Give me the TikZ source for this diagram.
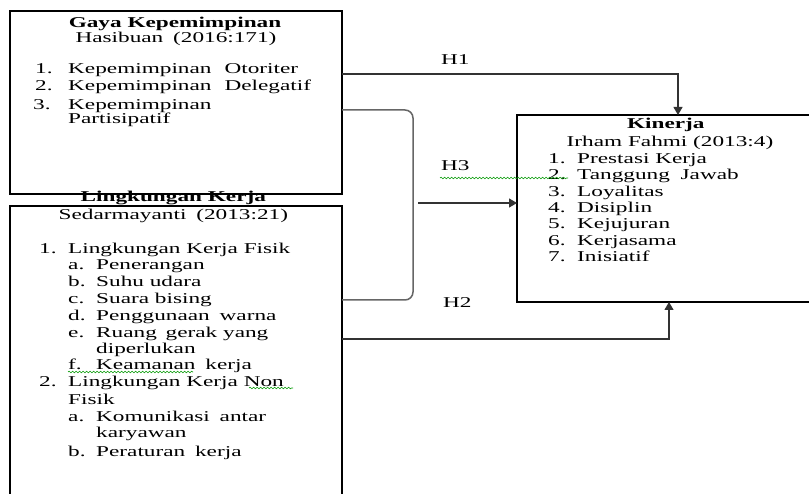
\documentclass[tikz,border=0pt]{standalone}
\usepackage{fontspec}
\setmainfont{Liberation Serif}[FakeStretch=1.55]
\usetikzlibrary{arrows.meta,decorations.pathmorphing}
\newcommand{\diagfont}{\fontsize{15}{16.5}\selectfont}
\tikzset{
  box/.style={draw, line width=1.3pt, inner sep=0pt, outer sep=0pt, anchor=north west},
  txt/.style={anchor=base west, inner sep=0pt, font=\diagfont},
  ttl/.style={anchor=base, inner sep=0pt, font=\diagfont\bfseries},
  src/.style={anchor=base, inner sep=0pt, font=\diagfont},
  link/.style={draw=black!80, line width=1.1pt, -{Triangle[length=8pt,width=9pt]}},
  bracket/.style={draw=black!60, line width=1.5pt, rounded corners=8pt},
  spell/.style={draw=green!60!black, line width=0.6pt, decorate,
    decoration={snake, amplitude=0.8pt, segment length=3.5pt}}
}
\begin{document}
\begin{tikzpicture}[x=1pt,y=-1pt]
    \useasboundingbox (0,0) rectangle (809,494);
    \clip (0,0) rectangle (809,494);
    \fill[white] (0,0) rectangle (809,494);

    % boxes
    \node[box, minimum width=332pt, minimum height=183pt] (gaya) at (10,11) {};
    \node[box, minimum width=332pt, minimum height=300pt] (ling) at (10,206) {};
    \node[box, minimum width=300pt, minimum height=187pt] (kinerja) at (517,115) {};

    % Gaya Kepemimpinan
    \node[ttl] (gtitle) at (175,27.7) {Gaya Kepemimpinan};
    \node[src] (gsrc) at (176,42.7) {Hasibuan\hspace{4pt} (2016:171)};
    \node[txt] (g1n) at (35,74) {1.};
    \node[txt] (g1) at (68,74) {Kepemimpinan\hspace{13pt}Otoriter};
    \node[txt] (g2n) at (35,90.7) {2.};
    \node[txt] (g2) at (68,90.7) {Kepemimpinan\hspace{13pt}Delegatif};
    \node[txt] (g3n) at (33,109.5) {3.};
    \node[txt] (g3) at (68,109.5) {Kepemimpinan};
    \node[txt] (g3b) at (68,124) {Partisipatif};

    % Lingkungan Kerja
    \node[ttl] (ltitle) at (173.3,201.7) {Lingkungan Kerja};
    \node[src] (lsrc) at (173.3,220) {Sedarmayanti\hspace{4pt} (2013:21)};
    \node[txt] (l1n) at (39,253.3) {1.};
    \node[txt] (l1) at (68,253.3) {Lingkungan Kerja Fisik};
    \node[txt] (l1an) at (68,270) {a.};
    \node[txt] (l1a) at (96,270) {Penerangan};
    \node[txt] (l1bn) at (68,286.7) {b.};
    \node[txt] (l1b) at (96,286.7) {Suhu udara};
    \node[txt] (l1cn) at (68,303.3) {c.};
    \node[txt] (l1c) at (96,303.3) {Suara bising};
    \node[txt] (l1dn) at (68,320.7) {d.};
    \node[txt] (l1d) at (96,320.7) {Penggunaan\hspace{4pt} warna};
    \node[txt] (l1en) at (68,337.3) {e.};
    \node[txt] (l1e) at (96,337.3) {Ruang\hspace{3pt} gerak yang};
    \node[txt] (l1e2) at (96,353.3) {diperlukan};
    \node[txt] (l1fn) at (68,370) {f.};
    \node[txt] (l1f) at (96,370) {Keamanan\hspace{4pt} kerja};
    \node[txt] (l2n) at (39,386.7) {2.};
    \node[txt] (l2) at (68,386.7) {Lingkungan Kerja Non};
    \node[txt] (l2b) at (68,404.3) {Fisik};
    \node[txt] (l2an) at (68,421) {a.};
    \node[txt] (l2a) at (96,421) {Komunikasi\hspace{4pt} antar};
    \node[txt] (l2a2) at (96,437.3) {karyawan};
    \node[txt] (l2bn) at (68,456.7) {b.};
    \node[txt] (l2bb) at (96,456.7) {Peraturan\hspace{4pt} kerja};

    % Kinerja
    \node[ttl] (ktitle) at (665.8,129) {Kinerja};
    \node[src] (ksrc) at (670,147) {Irham Fahmi (2013:4)};
    \foreach \t [count=\i] in {Prestasi Kerja, Tanggung\hspace{5pt} Jawab, Loyalitas,
        Disiplin, Kejujuran, Kerjasama, Inisiatif} {
        \node[txt] (k\i n) at (548,146.9+16.4*\i) {\i.};
        \node[txt] (k\i) at (577,146.9+16.4*\i) {\t};
    }

    % connectors
    \coordinate (h1) at (678,74);
    \coordinate (h2) at (669,339);
    \coordinate (h3) at (418,203);
    \coordinate (bt) at (413,110);
    \coordinate (bb) at (413,300);
    \draw[link] (gaya.east |- h1) -- (h1) -- (kinerja.north -| h1);
    \draw[link] (ling.east |- h2) -- (h2) -- (kinerja.south -| h2);
    \draw[bracket] (gaya.east |- bt) -- (bt) -- (bb) -- (ling.east |- bb);
    \draw[link] (h3) -- (kinerja.west |- h3);

    % labels
    \node[txt] (lh1) at (441,65) {H1};
    \node[txt] (lh3) at (441,170.7) {H3};
    \node[txt] (lh2) at (443,308) {H2};

    % spelling marks
    \draw[spell] (440,178) -- (568,178);
    \draw[spell] (68,372) -- (193,372);
    \draw[spell] (249,388) -- (293,388);
\end{tikzpicture}
\end{document}
